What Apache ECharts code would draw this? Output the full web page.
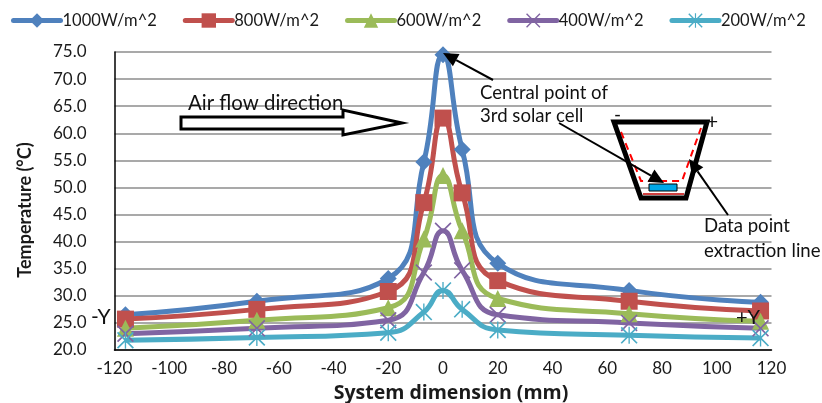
<!DOCTYPE html>
<html>
<head>
<meta charset="utf-8">
<style>
  html, body { margin: 0; padding: 0; background: #fff; }
  #chart { width: 822px; height: 403px; }
</style>
<script src="https://cdn.jsdelivr.net/npm/echarts@6/dist/echarts.min.js"></script>
</head>
<body>
<div id="chart"></div>
<script>
var positions = [-116, -68, -20, -7, 0, 7, 20, 68, 116];
var names = ['1000W/m^2', '800W/m^2', '600W/m^2', '400W/m^2', '200W/m^2'];
var temp1000 = [26.5, 29.0, 33.2, 54.7, 74.5, 57.0, 36.0, 31.0, 28.8];
var temp800 = [25.7, 27.5, 30.8, 47.2, 62.8, 49.0, 32.8, 29.0, 27.2];
var temp600 = [24.0, 25.5, 27.8, 40.5, 52.2, 42.0, 29.5, 26.7, 25.3];
var temp400 = [23.0, 24.0, 25.5, 34.3, 42.0, 34.7, 26.5, 25.0, 24.0];
var temp200 = [21.8, 22.3, 23.2, 27.0, 31.0, 27.5, 23.7, 22.7, 22.2];

var font = 'Lato';
var ink = '#1a1a1a';
var crossPath = 'path://M0,0.7 L0.7,0 L5,4.3 L9.3,0 L10,0.7 L5.7,5 L10,9.3 L9.3,10 L5,5.7 L0.7,10 L0,9.3 L4.3,5Z';
var starPath = 'path://M0,0.7 L0.7,0 L5,4.3 L9.3,0 L10,0.7 L5.7,5 L10,9.3 L9.3,10 L5,5.7 L0.7,10 L0,9.3 L4.3,5Z M4.6,0 L5.4,0 L5.4,10 L4.6,10Z';

function makeSeries(name, values, color, symbol, size) {
  return {
    name: name,
    type: 'line',
    smooth: 0.5,
    symbol: symbol,
    symbolSize: size,
    showAllSymbol: true,
    lineStyle: { color: color, width: 5 },
    itemStyle: { color: color },
    data: positions.map(function(x, i) { return [x, values[i]]; })
  };
}

// arrow line with a filled head at the tip
function arrow(x1, y1, x2, y2) {
  var a = Math.atan2(y2 - y1, x2 - x1);
  var len = 15, half = 7;
  var bx = x2 - len * Math.cos(a), by = y2 - len * Math.sin(a);
  return [
    { type: 'line', shape: { x1: x1, y1: y1, x2: bx, y2: by }, style: { stroke: '#000', lineWidth: 2 }, z: 100 },
    { type: 'polygon', shape: { points: [[x2, y2],
      [bx - half * Math.sin(a), by + half * Math.cos(a)],
      [bx + half * Math.sin(a), by - half * Math.cos(a)]] }, style: { fill: '#000' }, z: 100 }
  ];
}

function label(text, x, y, size) {
  return { type: 'text', x: x, y: y, z: 101,
    style: { text: text, fill: '#111', font: size + 'px ' + font, verticalAlign: 'middle' } };
}

var annotations = [
  { type: 'polygon', z: 99, shape: { points: [[181, 117], [343, 117], [343, 110], [402, 123], [343, 135], [343, 129], [181, 129]] },
    style: { fill: '#fff', stroke: '#000', lineWidth: 3 } },
  label('Air flow direction', 188, 103, 20.4),
  label('Central point of', 480, 93, 18.6),
  label('3rd solar cell', 480, 116, 18.6),
  label('Data point', 704, 226, 18.6),
  label('extraction line', 704, 251, 18.6),
  label('-', 614, 115, 19),
  label('+', 706, 122, 21),
  label('-Y', 91, 317, 21),
  label('+Y', 736, 318, 20),
  // receiver sketch
  { type: 'polyline', z: 99, shape: { points: [[621, 132], [641, 181], [682, 181], [701, 128]] },
    style: { stroke: '#f00', lineWidth: 2, lineDash: [7, 5], fill: null } },
  { type: 'rect', z: 99, shape: { x: 649, y: 184, width: 28, height: 7 }, style: { fill: '#00a8e8', stroke: '#000', lineWidth: 1 } },
  { type: 'line', z: 99, shape: { x1: 643, y1: 194, x2: 684, y2: 194 }, style: { stroke: '#c00000', lineWidth: 1.5 } },
  { type: 'polygon', z: 99, shape: { points: [[614, 122], [707, 122], [686, 198], [641, 198]] },
    style: { fill: null, stroke: '#000', lineWidth: 5 } }
].concat(arrow(493, 80, 443, 53), arrow(559, 123, 664, 183), arrow(728, 215, 689, 159));

var chart = echarts.init(document.getElementById('chart'), null, { renderer: 'canvas' });
chart.setOption({
  animation: false,
  backgroundColor: '#fff',
  textStyle: { fontFamily: font },
  legend: {
    data: names,
    left: 6,
    top: 7,
    itemWidth: 47,
    itemHeight: 18,
    itemGap: 26,
    lineStyle: { width: 5, cap: 'round' },
    textStyle: { color: ink, fontSize: 16.5, fontFamily: font, padding: [0, 0, 0, -3] }
  },
  grid: { left: 114.5, right: 50.5, top: 52, bottom: 53, outerBoundsMode: 'none' },
  xAxis: {
    type: 'value',
    min: -120,
    max: 120,
    interval: 20,
    name: 'System dimension (mm)',
    nameLocation: 'middle',
    nameGap: 33,
    nameTextStyle: { color: ink, fontSize: 19.5, fontWeight: 'bold', fontFamily: 'Open Sans', padding: [0, 0, 0, 16] },
    axisLine: { onZero: false, lineStyle: { color: '#000', width: 1.5 } },
    axisTick: { show: false },
    axisLabel: { color: ink, fontSize: 17, fontFamily: font, margin: 10 },
    splitLine: { show: false }
  },
  yAxis: {
    type: 'value',
    min: 20,
    max: 75,
    interval: 5,
    name: 'Temperature (°C)',
    nameLocation: 'middle',
    nameGap: 80,
    nameTextStyle: { color: ink, fontSize: 18, fontWeight: 'bold', fontFamily: font, padding: [0, 18, 0, 0] },
    axisLine: { show: true, onZero: false, lineStyle: { color: '#000', width: 1.5 } },
    axisTick: { show: false },
    axisLabel: { color: ink, fontSize: 17, fontFamily: font, margin: 28, padding: [4, 0, 0, 0],
      formatter: function(v) { return v.toFixed(1); } },
    splitLine: { show: true, lineStyle: { color: '#8c8c8c', width: 1.5 } }
  },
  series: [
    makeSeries(names[0], temp1000, '#4f81bd', 'diamond', 17),
    makeSeries(names[1], temp800, '#c0504d', 'rect', 17),
    makeSeries(names[2], temp600, '#9bbb59', 'triangle', 17),
    makeSeries(names[3], temp400, '#8064a2', crossPath, 17),
    makeSeries(names[4], temp200, '#4bacc6', starPath, 17)
  ],
  graphic: annotations
});
window.addEventListener('resize', function() { chart.resize(); });
</script>
</body>
</html>
